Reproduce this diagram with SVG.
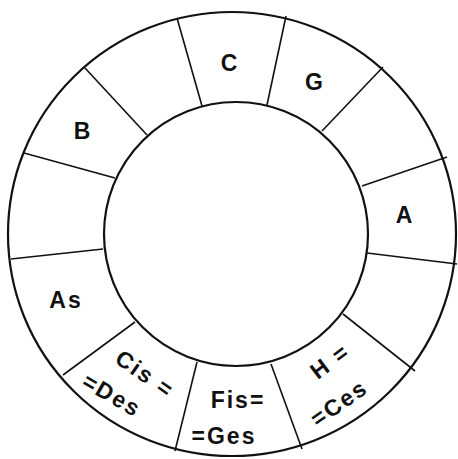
<svg xmlns="http://www.w3.org/2000/svg" width="458" height="459" viewBox="0 0 458 459">
<style>
.ring{fill:none;stroke:#111;stroke-width:2.2}
.div line{stroke:#111;stroke-width:1.6}
text{font-family:"Liberation Sans","DejaVu Sans",sans-serif;font-weight:bold;font-size:23px;fill:#111;text-anchor:middle;dominant-baseline:central;letter-spacing:2px}
</style>
<rect width="458" height="459" fill="#fff"/>
<g id="rings">
<ellipse class="ring" cx="232" cy="234" rx="224" ry="222"/>
<circle class="ring" cx="236" cy="234" r="132"/>
</g>
<g id="connectors" class="div">
<line x1="177" y1="18" x2="202" y2="106"/>
<line x1="286" y1="16" x2="267" y2="105"/>
<line x1="383" y1="67" x2="322" y2="131"/>
<line x1="447" y1="157" x2="362" y2="186"/>
<line x1="85" y1="68" x2="147" y2="135"/>
<line x1="24" y1="153" x2="115" y2="178"/>
<line x1="11" y1="259" x2="103" y2="249"/>
<line x1="63" y1="375" x2="135" y2="322"/>
<line x1="175" y1="451" x2="197" y2="362"/>
<line x1="302" y1="449" x2="271" y2="364"/>
<line x1="415" y1="371" x2="343" y2="314"/>
<line x1="457" y1="264" x2="367" y2="253"/>
</g>
<g id="n-C"><text x="230" y="63">C</text></g>
<g id="n-G"><text x="315" y="82">G</text></g>
<g id="n-A"><text x="405" y="215">A</text></g>
<g id="n-B"><text x="83" y="131">B</text></g>
<g id="n-As"><text x="66" y="300">As</text></g>
<g id="n-Cis"><text transform="translate(145,374) rotate(35)">Cis =</text><text transform="translate(112,395) rotate(30)">=Des</text></g>
<g id="n-Fis"><text x="238" y="400">Fis=</text><text x="224" y="436">=Ges</text></g>
<g id="n-H"><text transform="translate(330,361) rotate(-37)">H =</text><text transform="translate(339,403) rotate(-35)">=Ces</text></g>
</svg>
